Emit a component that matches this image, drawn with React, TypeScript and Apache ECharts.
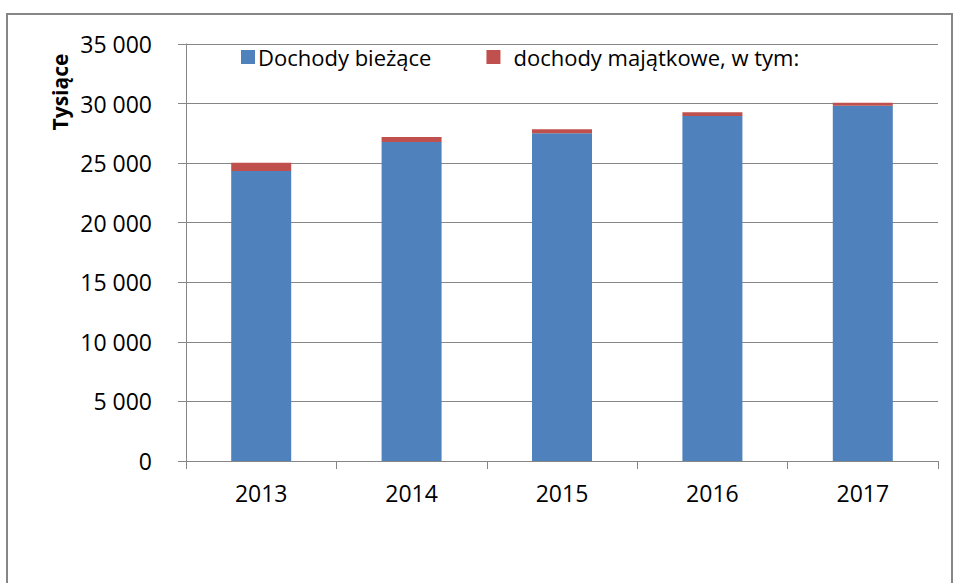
import React, { useEffect, useRef } from "react";
import * as echarts from "echarts";

const years = ["2013", "2014", "2015", "2016", "2017"];
const currentIncome = [24340, 26780, 27500, 28960, 29820];
const propertyIncome = [700, 410, 340, 310, 250];
const seriesNames = ["Dochody bieżące", "dochody majątkowe, w tym:"];
const yTitle = "Tysiące";

const FONT = "'Open Sans', 'Noto Sans', sans-serif";

function fmt(v: number): string {
  return String(v).replace(/\B(?=(\d{3})+(?!\d))/g, " ");
}

export default function App() {
  const ref = useRef<HTMLDivElement>(null);
  useEffect(() => {
    if (!ref.current) return;
    const chart = echarts.init(ref.current, null, { renderer: "svg" });
    chart.setOption({
      animation: false,
      backgroundColor: "#ffffff",
      textStyle: { fontFamily: FONT },
      graphic: [
        {
          type: "rect",
          shape: { x: 7, y: 14, width: 945, height: 600 },
          style: { fill: "none", stroke: "#868686", lineWidth: 2 },
          silent: true,
          z: -1,
        },
        {
          type: "text",
          x: 60,
          y: 92,
          rotation: Math.PI / 2,
          style: {
            text: yTitle,
            fontFamily: FONT,
            fontWeight: "bold",
            fontSize: 21,
            fill: "#000",
            align: "center",
            verticalAlign: "middle",
          },
        },
      ],
      legend: {
        left: 236,
        top: 41,
        icon: "rect",
        itemWidth: 14,
        itemHeight: 14,
        itemGap: 55,
        textStyle: { fontFamily: FONT, fontSize: 22, color: "#000", padding: [0, 0, 0, -2] },
        data: [
          { name: seriesNames[0] },
          { name: seriesNames[1], textStyle: { padding: [0, 0, 0, 8] } },
        ],
      },
      grid: { left: 186, right: 17, top: 44, bottom: 122, containLabel: false },
      xAxis: {
        type: "category",
        data: years,
        axisLine: { lineStyle: { color: "#868686", width: 1 } },
        axisTick: { show: true, length: 8, lineStyle: { color: "#868686" } },
        axisLabel: { fontFamily: FONT, fontSize: 23, color: "#000", margin: 20 },
      },
      yAxis: {
        type: "value",
        min: 0,
        max: 35000,
        interval: 5000,
        axisLine: { show: true, lineStyle: { color: "#868686" } },
        axisTick: { show: true, length: 8, lineStyle: { color: "#868686" } },
        splitLine: { lineStyle: { color: "#868686", width: 1 } },
        axisLabel: {
          fontFamily: FONT,
          fontSize: 23,
          color: "#000",
          margin: 34,
          formatter: (v: number) => fmt(v),
        },
      },
      series: [
        {
          name: seriesNames[0],
          type: "bar",
          stack: "total",
          barWidth: 60,
          data: currentIncome,
          itemStyle: { color: "#4F81BD" },
        },
        {
          name: seriesNames[1],
          type: "bar",
          stack: "total",
          barWidth: 60,
          data: propertyIncome,
          itemStyle: { color: "#C0504D" },
        },
      ],
    });
    return () => chart.dispose();
  }, []);
  return <div ref={ref} style={{ width: 955, height: 583, position: "absolute", left: 0, top: 0 }} />;
}
